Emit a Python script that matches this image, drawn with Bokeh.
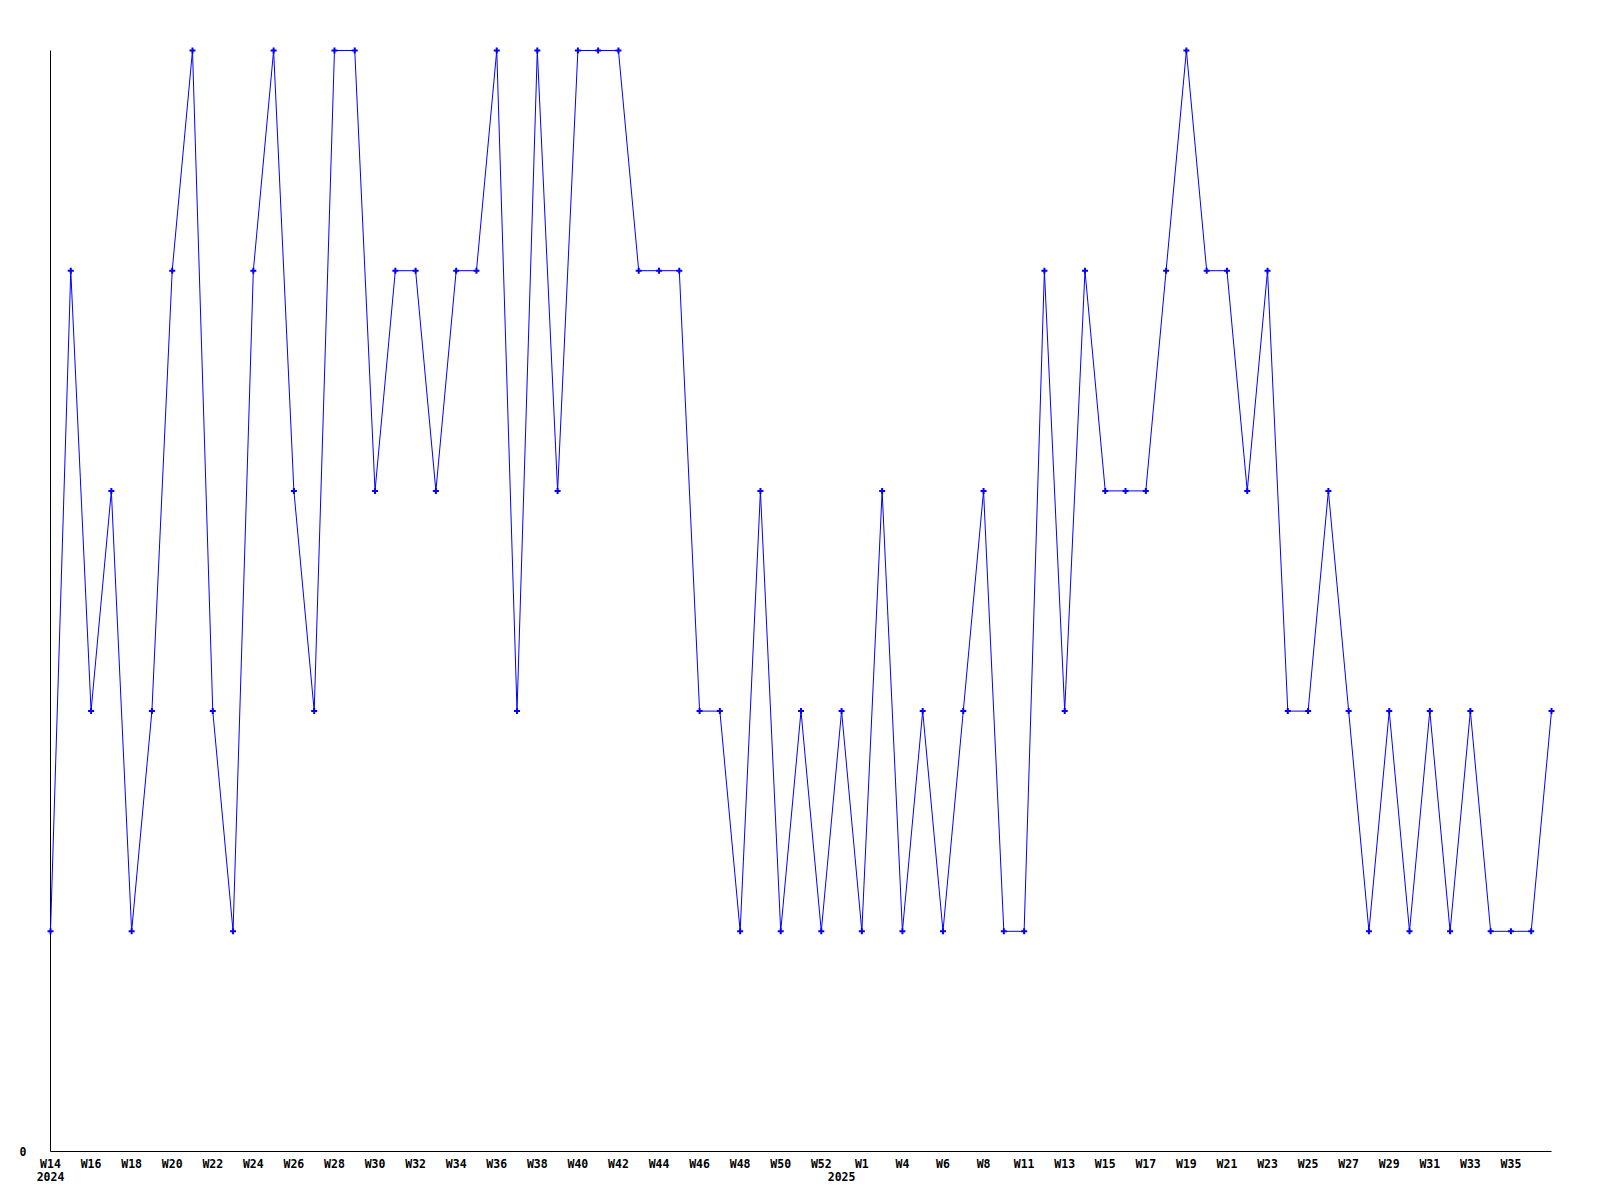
from bokeh.plotting import figure
from bokeh.models import Range1d, FixedTicker, ColumnDataSource, LinearAxis
from bokeh.embed import file_html
from bokeh.resources import INLINE

# ---- data -------------------------------------------------------------
weeks_2024 = ["2024-W%d" % w for w in range(14, 53)]
weeks_2025 = ["2025-W%d" % w for w in range(1, 37)]
weeks = weeks_2024 + weeks_2025

values = [1, 4, 2, 3, 1, 2, 4, 5, 2, 1,
          4, 5, 3, 2, 5, 5, 3, 4, 4, 3,
          4, 4, 5, 2, 5, 3, 5, 5, 5, 4,
          4, 4, 2, 2, 1, 3, 1, 2, 1, 2,
          1, 3, 1, 2, 1, 2, 3, 1, 1, 4,
          2, 4, 3, 3, 3, 4, 5, 4, 4, 3,
          4, 2, 2, 3, 2, 1, 2, 1, 2, 1,
          2, 1, 1, 1, 2]

tick_labels = ["W14", "W16", "W18", "W20", "W22", "W24", "W26", "W28", "W30",
               "W32", "W34", "W36", "W38", "W40", "W42", "W44", "W46", "W48",
               "W50", "W52", "W1", "W4", "W6", "W8", "W11", "W13", "W15",
               "W17", "W19", "W21", "W23", "W25", "W27", "W29", "W31", "W33",
               "W35"]
year_labels = ["2024", "2025"]
y_ticks = [0]
y_max = 5

# ---- derived ----------------------------------------------------------
xs = list(range(len(values)))
tick_pos = xs[0:len(tick_labels) * 2:2]
year_pos = [weeks.index(weeks_2024[0]), weeks.index(weeks_2025[0])]

FONT = "DejaVu Sans Mono"
FSIZE = "11.5px"

p = figure(width=1592, height=1198, output_backend="svg", toolbar_location=None,
           x_range=Range1d(0, len(values) - 1), y_range=Range1d(0, y_max),
           x_axis_location=None, y_axis_location=None,
           min_border_left=50, min_border_top=50, min_border_right=41,
           min_border_bottom=47)
p.outline_line_color = None
p.xgrid.visible = False
p.ygrid.visible = False
p.background_fill_color = "white"
p.border_fill_color = "white"

xaxis = LinearAxis(ticker=FixedTicker(ticks=tick_pos),
                   major_label_overrides={t: l for t, l in zip(tick_pos, tick_labels)})
yearaxis = LinearAxis(ticker=FixedTicker(ticks=year_pos),
                      major_label_overrides={t: l for t, l in zip(year_pos, year_labels)})
yaxis = LinearAxis(ticker=FixedTicker(ticks=y_ticks),
                   major_label_overrides={0: "0"})
for ax in (xaxis, yaxis, yearaxis):
    ax.axis_line_color = "black"
    ax.axis_line_width = 1
    ax.major_tick_out = 0
    ax.major_tick_in = 0
    ax.minor_tick_out = 0
    ax.minor_tick_in = 0
    ax.major_label_text_font = FONT
    ax.major_label_text_font_style = "bold"
    ax.major_label_text_font_size = FSIZE
    ax.major_label_text_color = "black"
yearaxis.axis_line_color = None
xaxis.major_label_standoff = 5
yearaxis.major_label_standoff = -2
yaxis.major_label_standoff = 24
p.add_layout(xaxis, "below")
p.add_layout(yearaxis, "below")
p.add_layout(yaxis, "left")

src = ColumnDataSource(dict(x=xs, y=values, week=weeks))
ln = p.line("x", "y", source=src, line_color="#0000ff", line_width=1)
sc = p.scatter("x", "y", source=src, marker="cross", size=6, line_width=2,
               line_color="#0000ff")
ln.level = "overlay"
sc.level = "overlay"

open("out.html", "w").write(file_html(p, INLINE))
